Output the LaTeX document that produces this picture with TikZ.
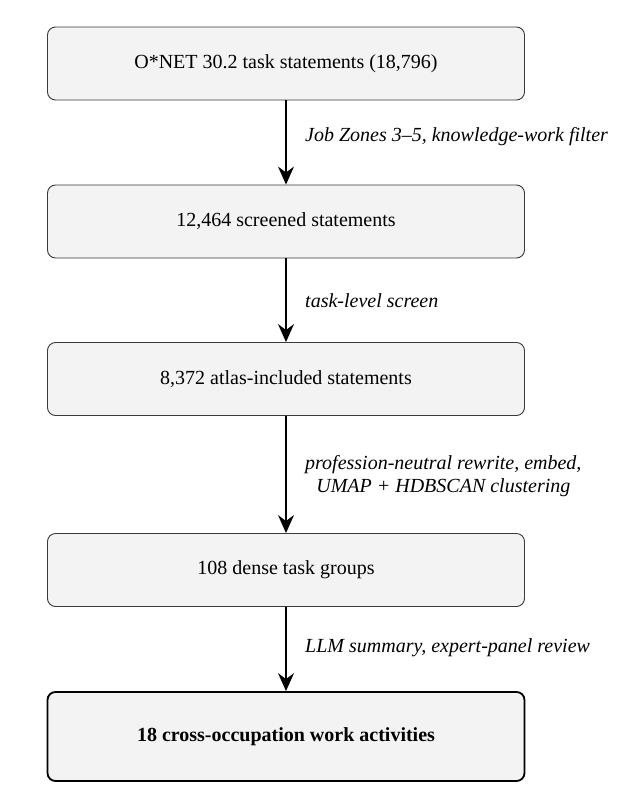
\documentclass[tikz,border=0pt]{standalone}
\usepackage{fontspec}
\setmainfont{Liberation Serif}
\usetikzlibrary{arrows.meta}
\definecolor{boxfill}{HTML}{F3F3F3}
\definecolor{boxline}{HTML}{3A3A3A}

\begin{document}
\begin{tikzpicture}[x=1pt,y=-1pt,
	stage/.style={draw=boxline, line width=0.9pt, fill=boxfill, rounded corners=8pt, minimum width=477pt, minimum height=73pt, inner sep=0pt, font=\fontsize{20}{23}\selectfont},
	final/.style={stage, draw=black, line width=1.8pt, minimum height=89pt, font=\fontsize{20}{23}\selectfont\bfseries},
	flow/.style={line width=1.3pt, -{Stealth[length=18pt,width=16pt,inset=6pt]}},
	note/.style={anchor=west, align=center, inner sep=0pt, font=\fontsize{20}{23}\selectfont\itshape}]
	\useasboundingbox (0,0) rectangle (624,796);
	\node [stage] (onet) at (286,63.5) {O*NET 30.2 task statements (18,796)};
	\node [stage] (screened) at (286,221.5) {12,464 screened statements};
	\node [stage] (atlas) at (286,379) {8,372 atlas-included statements};
	\node [stage] (groups) at (286,570) {108 dense task groups};
	\node [final] (activities) at (286,736.5) {18 cross-occupation work activities};
	\draw [flow] (onet) -- (screened);
	\draw [flow] (screened) -- (atlas);
	\draw [flow] (atlas) -- (groups);
	\draw [flow] (groups) -- (activities);
	\path (305,137) node [note] {Job Zones 3--5, knowledge-work filter};
	\path (305,301) node [note] {task-level screen};
	\path (305,476) node [note] {profession-neutral rewrite, embed,\\UMAP + HDBSCAN clustering};
	\path (305,648) node [note] {LLM summary, expert-panel review};
\end{tikzpicture}
\end{document}
